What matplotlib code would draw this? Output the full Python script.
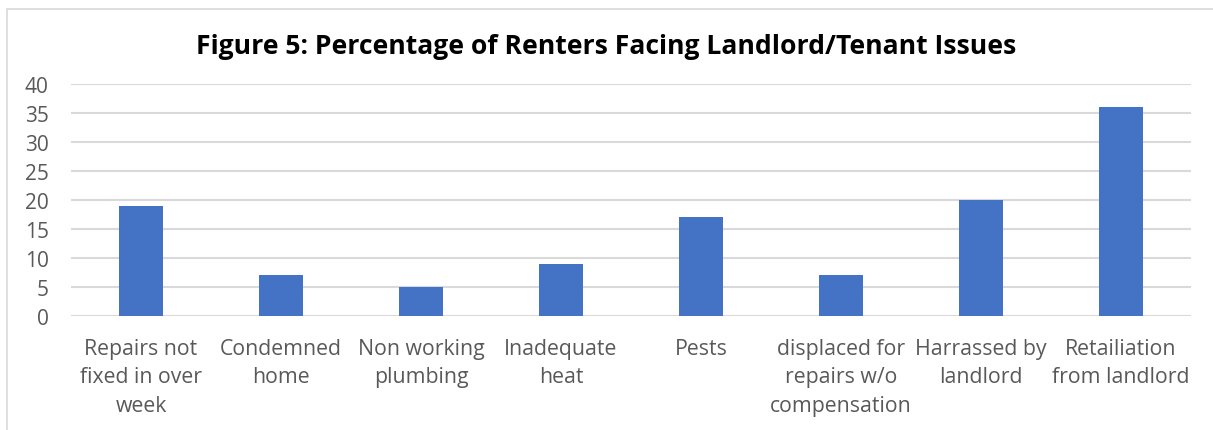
import matplotlib
matplotlib.use("Agg")
import matplotlib.pyplot as plt
from matplotlib.patches import Rectangle

categories = ["Repairs not\nfixed in over\nweek", "Condemned\nhome", "Non working\nplumbing",
              "Inadequate\nheat", "Pests", "displaced for\nrepairs w/o\ncompensation",
              "Harrassed by\nlandlord", "Retailiation\nfrom landlord"]
values = [19, 7, 5, 9, 17, 7, 20, 36]
yticks = [0, 5, 10, 15, 20, 25, 30, 35, 40]
title = "Figure 5: Percentage of Renters Facing Landlord/Tenant Issues"

plt.rcParams['font.family'] = ['Open Sans', 'DejaVu Sans']

W, H = 1213, 431
fig = plt.figure(figsize=(W/100, H/100), dpi=100)
ax = fig.add_axes([71/W, 1-317/H, 1120/W, 232/H])

x = list(range(len(categories)))
ax.bar(x, values, width=0.314, color="#4472C4", zorder=3)
ax.set_xlim(-0.5, len(categories)-0.5)
ax.set_ylim(0, 40)
ax.set_yticks(yticks)
ax.set_xticks(x)
ax.set_xticklabels(categories, fontsize=15.3, color="#595959", linespacing=1.45)
ax.tick_params(axis='y', labelsize=15, labelcolor="#595959", length=0, pad=16)
ax.tick_params(axis='x', length=0, pad=16)
ax.grid(axis='y', color="#d9d9d9", linewidth=1.5, zorder=0)
for s in ax.spines.values():
    s.set_visible(False)

fig.text(606/W, 1-47/H, title, ha='center', va='center', fontsize=19.1, fontweight='bold', color='black')

fig.patches.append(Rectangle((7/W, -0.1), 1.2, 1-10/H+0.1, transform=fig.transFigure,
                             fill=False, edgecolor="#d9d9d9", linewidth=1.2))

fig.savefig("out.png", dpi=100)
